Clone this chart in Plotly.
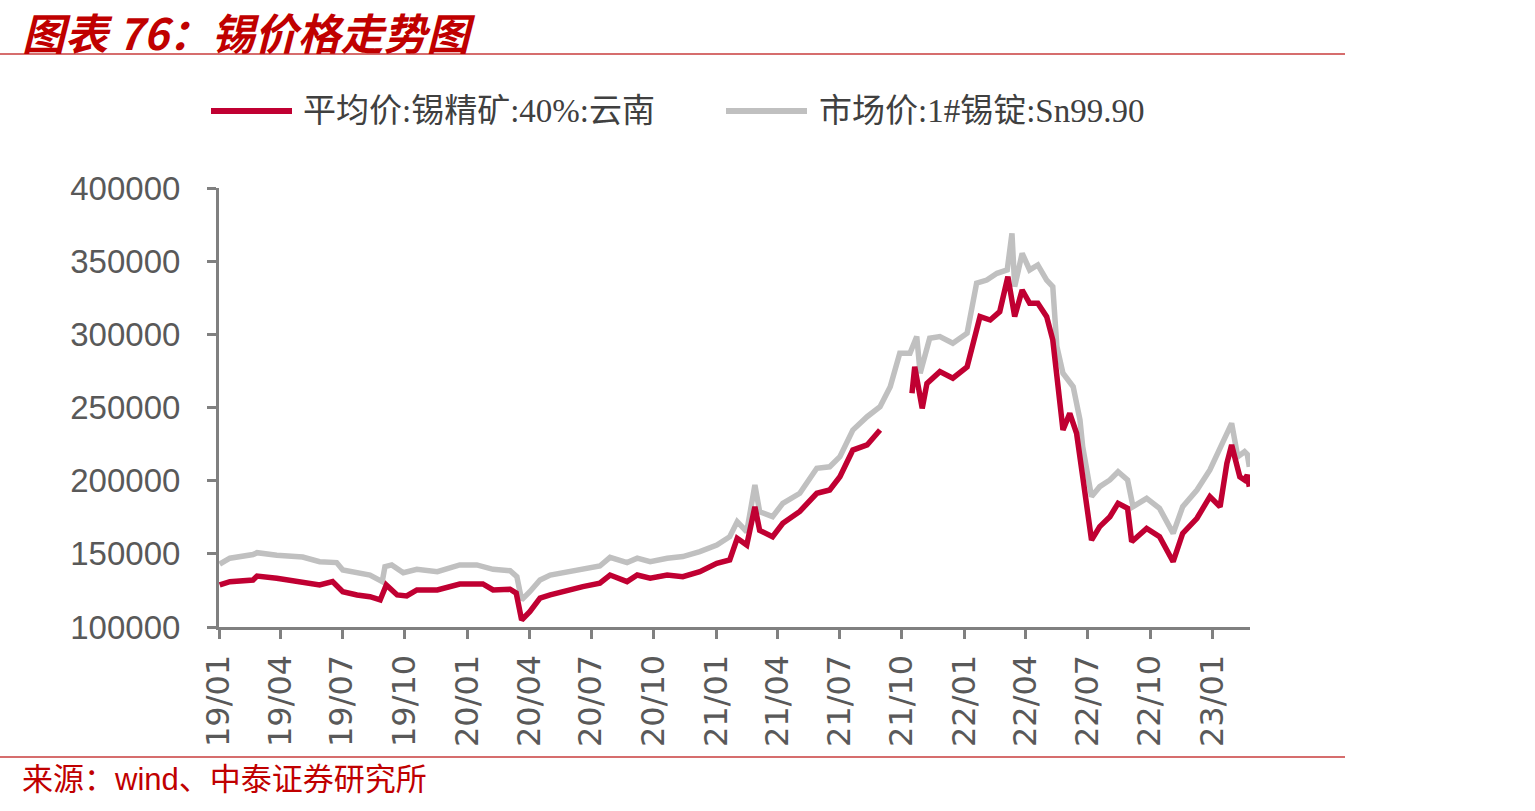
import plotly.graph_objects as go

# ---------------- data ----------------
ore_dates = [
    "2019-01-02", "2019-01-17", "2019-02-20", "2019-02-26", "2019-03-27", "2019-05-04",
    "2019-05-29", "2019-06-17", "2019-07-02", "2019-07-23", "2019-08-11", "2019-08-26",
    "2019-09-04", "2019-09-20", "2019-10-04", "2019-10-19", "2019-11-18", "2019-12-21",
    "2020-01-24", "2020-02-08", "2020-03-04", "2020-03-13", "2020-03-21", "2020-04-02",
    "2020-04-17", "2020-05-02", "2020-05-27", "2020-06-19", "2020-07-14", "2020-07-29",
    "2020-08-23", "2020-09-07", "2020-09-26", "2020-10-21", "2020-11-13", "2020-12-08",
    "2021-01-02", "2021-01-21", "2021-02-01", "2021-02-15", "2021-02-27", "2021-03-06",
    "2021-03-25", "2021-04-09", "2021-05-04", "2021-05-29", "2021-06-17", "2021-07-02",
    "2021-07-21", "2021-08-11", "2021-08-30", "2021-09-15", "2021-10-16", "2021-10-20",
    "2021-10-31", "2021-11-07", "2021-11-26", "2021-12-15", "2022-01-05", "2022-01-14",
    "2022-01-24", "2022-02-08", "2022-02-22", "2022-03-06", "2022-03-16", "2022-03-27",
    "2022-04-07", "2022-04-19", "2022-05-02", "2022-05-11", "2022-05-17", "2022-05-26",
    "2022-06-05", "2022-06-15", "2022-06-24", "2022-07-07", "2022-07-19", "2022-08-03",
    "2022-08-15", "2022-08-29", "2022-09-04", "2022-09-26", "2022-10-15", "2022-11-04",
    "2022-11-18", "2022-12-09", "2022-12-28", "2023-01-12", "2023-01-22", "2023-01-29",
    "2023-02-10", "2023-02-17", "2023-02-21", "2023-02-24",
]
ore_values = [
    128700, 131000, 132100, 134800, 133300, 130300,
    128700, 131000, 124100, 121900, 120700, 118500,
    128700, 121900, 121200, 125300, 125300, 129400,
    129400, 125300, 125800, 123200, 104800, 110500,
    119800, 121900, 125300, 127600, 129900, 135500,
    131000, 135500, 133300, 135500, 134400, 137800,
    143500, 145800, 160600, 156000, 182200, 166000,
    161700, 170900, 179000, 191400, 193600, 202700,
    220900, 224400, 234600, None, 259700, 277800,
    249400, 266500, 274500, 270000, 277800, 293900,
    312100, 309800, 315500, 339400, 312100, 330300,
    321200, 321200, 312100, 296200, 271100, 234600,
    246000, 232400, 202700, 159400, 168600, 175400,
    184500, 181100, 158300, 167400, 161700, 144600,
    164000, 174300, 189100, 182200, 211800, 224400,
    202700, 200500, 203900, 195900,
]

ingot_dates = [
    "2019-01-02", "2019-01-17", "2019-02-20", "2019-02-26", "2019-03-27", "2019-05-04",
    "2019-05-29", "2019-06-23", "2019-07-02", "2019-07-23", "2019-08-11", "2019-08-29",
    "2019-09-02", "2019-09-12", "2019-09-29", "2019-10-19", "2019-11-18", "2019-12-21",
    "2020-01-15", "2020-02-08", "2020-03-04", "2020-03-14", "2020-03-21", "2020-04-02",
    "2020-04-17", "2020-05-02", "2020-05-27", "2020-06-19", "2020-07-14", "2020-07-29",
    "2020-08-23", "2020-09-07", "2020-09-26", "2020-10-21", "2020-11-13", "2020-12-08",
    "2021-01-02", "2021-01-21", "2021-02-01", "2021-02-15", "2021-02-27", "2021-03-06",
    "2021-03-25", "2021-04-09", "2021-05-04", "2021-05-29", "2021-06-17", "2021-07-02",
    "2021-07-21", "2021-08-11", "2021-08-30", "2021-09-14", "2021-09-28", "2021-10-13",
    "2021-10-23", "2021-10-28", "2021-11-11", "2021-11-26", "2021-12-15", "2022-01-05",
    "2022-01-19", "2022-02-03", "2022-02-18", "2022-03-05", "2022-03-12", "2022-03-16",
    "2022-03-27", "2022-04-07", "2022-04-19", "2022-05-02", "2022-05-11", "2022-05-17",
    "2022-05-26", "2022-06-10", "2022-06-20", "2022-06-24", "2022-07-07", "2022-07-19",
    "2022-08-03", "2022-08-15", "2022-08-29", "2022-09-06", "2022-09-26", "2022-10-15",
    "2022-11-04", "2022-11-18", "2022-12-09", "2022-12-28", "2023-01-16", "2023-01-29",
    "2023-02-07", "2023-02-17", "2023-02-21", "2023-02-24",
]
ingot_values = [
    143000, 147000, 149500, 150800, 149000, 147800,
    144600, 144000, 139000, 137000, 135500, 131000,
    141200, 142400, 137100, 139400, 137800, 142400,
    142400, 139400, 138500, 134400, 118500, 124100,
    132100, 135500, 137800, 140100, 141700, 147600,
    144000, 147000, 144600, 147000, 148100, 151500,
    156000, 161700, 172000, 165100, 197000, 178800,
    175400, 184500, 191400, 208500, 209500, 216400,
    234600, 243700, 250500, 264200, 287100, 287100,
    298500, 273400, 297300, 298500, 293900, 300800,
    335000, 337100, 341700, 344000, 369000, 332600,
    355400, 344000, 347400, 337100, 332600, 291700,
    273400, 264200, 241500, 223200, 189100, 195900,
    200500, 206100, 200500, 182200, 187900, 181100,
    164000, 182200, 193600, 207300, 226600, 239200,
    216400, 219800, 218000, 209500,
]

series_names = ["平均价:锡精矿:40%:云南", "市场价:1#锡锭:Sn99.90"]
series_colors = ["#C00032", "#C0C0C0"]

tick_dates = [
    "2019-01-01", "2019-04-01", "2019-07-01", "2019-10-01",
    "2020-01-01", "2020-04-01", "2020-07-01", "2020-10-01",
    "2021-01-01", "2021-04-01", "2021-07-01", "2021-10-01",
    "2022-01-01", "2022-04-01", "2022-07-01", "2022-10-01",
    "2023-01-01",
]
tick_labels = [
    "19/01", "19/04", "19/07", "19/10",
    "20/01", "20/04", "20/07", "20/10",
    "21/01", "21/04", "21/07", "21/10",
    "22/01", "22/04", "22/07", "22/10",
    "23/01",
]
y_ticks = [100000, 150000, 200000, 250000, 300000, 350000, 400000]

title_text = "图表 76：锡价格走势图"
source_text = "来源：wind、中泰证券研究所"

# ---------------- layout helpers (pixel -> paper) ----------------
W, H = 1535, 811
L, R, T, B = 219, 1250, 188, 627


def px(x):
    return (x - L) / (R - L)


def py(y):
    return (B - y) / (B - T)


fig = go.Figure()
fig.add_trace(go.Scatter(
    x=ingot_dates, y=ingot_values, name=series_names[1], mode="lines",
    line=dict(color=series_colors[1], width=5.5), showlegend=False,
))
fig.add_trace(go.Scatter(
    x=ore_dates, y=ore_values, name=series_names[0], mode="lines",
    line=dict(color=series_colors[0], width=5.5), connectgaps=False, showlegend=False,
))

axis_color = "#808080"
label_color = "#595959"

fig.update_layout(
    width=W, height=H,
    margin=dict(l=L, r=W - R, t=T, b=H - B, pad=0),
    paper_bgcolor="white", plot_bgcolor="white",
    font=dict(family="Liberation Sans, Arial, Noto Sans CJK SC", color=label_color),
    xaxis=dict(
        type="date", range=["2019-01-01", "2023-02-25"],
        tickmode="array", tickvals=tick_dates, ticktext=tick_labels,
        tickangle=-90, tickfont=dict(size=32, color=label_color, family="DejaVu Sans"),
        showline=True, linecolor=axis_color, linewidth=3,
        ticks="outside", ticklen=9, tickwidth=3, tickcolor=axis_color,
        ticklabelstandoff=3,
        showgrid=False, zeroline=False,
    ),
    yaxis=dict(
        range=[100000, 400000], tickmode="array", tickvals=y_ticks,
        tickfont=dict(size=33, color=label_color),
        showline=True, linecolor=axis_color, linewidth=3,
        ticks="outside", ticklen=9, tickwidth=3, tickcolor=axis_color,
        ticklabelstandoff=20,
        showgrid=False, zeroline=False, tickformat="d",
    ),
    showlegend=False,
)

shapes = []
# rule under the title and above the source
shapes.append(dict(type="line", xref="paper", yref="paper",
                   x0=px(0), x1=px(1345), y0=py(54), y1=py(54),
                   line=dict(color="#C83C3C", width=1.5)))
shapes.append(dict(type="line", xref="paper", yref="paper",
                   x0=px(0), x1=px(1345), y0=py(757), y1=py(757),
                   line=dict(color="#C83C3C", width=1.5)))
# manual legend samples
shapes.append(dict(type="line", xref="paper", yref="paper",
                   x0=px(211), x1=px(292), y0=py(111), y1=py(111),
                   line=dict(color=series_colors[0], width=6)))
shapes.append(dict(type="line", xref="paper", yref="paper",
                   x0=px(726), x1=px(807), y0=py(111), y1=py(111),
                   line=dict(color=series_colors[1], width=6)))

annotations = [
    dict(text="<b><i>" + title_text + "</i></b>", xref="paper", yref="paper",
         x=px(20), y=py(31), xanchor="left", yanchor="middle", showarrow=False,
         font=dict(size=43, color="#C00000", family="Noto Sans CJK SC, Liberation Sans")),
    dict(text=series_names[0], xref="paper", yref="paper",
         x=px(301), y=py(111), xanchor="left", yanchor="middle", showarrow=False,
         font=dict(size=33, color="#404040", family="Liberation Serif, Noto Sans CJK SC")),
    dict(text=series_names[1], xref="paper", yref="paper",
         x=px(817), y=py(111), xanchor="left", yanchor="middle", showarrow=False,
         font=dict(size=33, color="#404040", family="Liberation Serif, Noto Sans CJK SC")),
    dict(text=source_text, xref="paper", yref="paper",
         x=px(20), y=py(779), xanchor="left", yanchor="middle", showarrow=False,
         font=dict(size=31, color="#C00000", family="Liberation Sans, Noto Sans CJK SC")),
]

fig.update_layout(shapes=shapes, annotations=annotations)
fig.write_html("out.html")
